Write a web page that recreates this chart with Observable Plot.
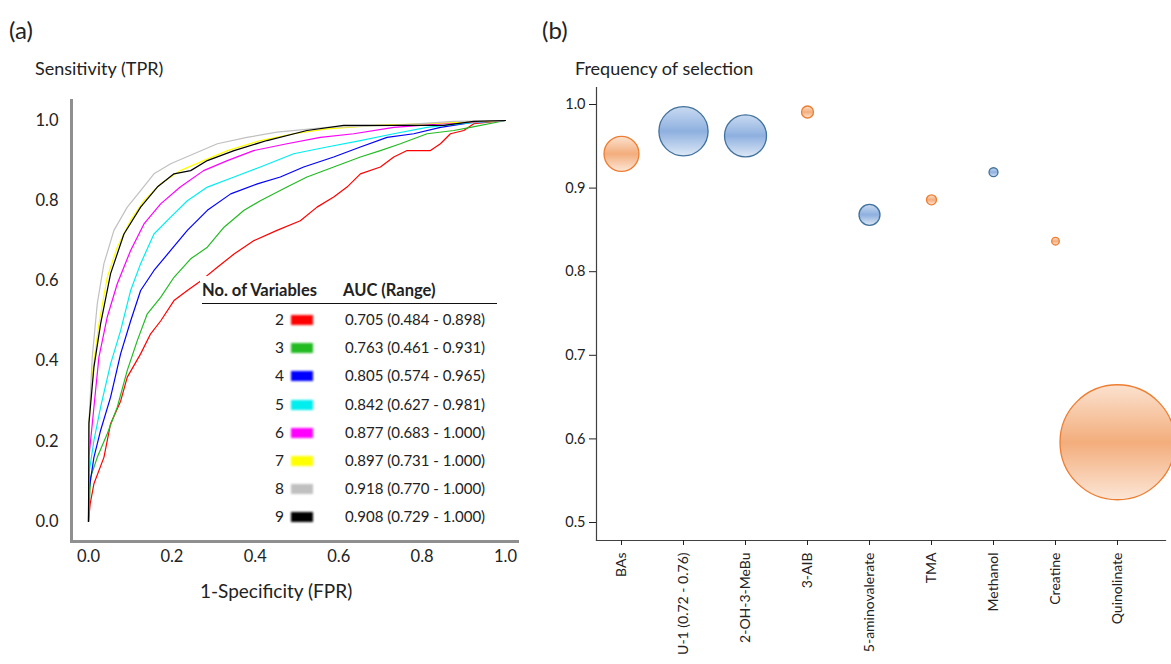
<!DOCTYPE html>
<html><head><meta charset="utf-8">
<script src="https://cdn.jsdelivr.net/npm/d3@7"></script>
<script src="https://cdn.jsdelivr.net/npm/@observablehq/plot@0.6"></script>
<style>
body{margin:0;background:#fff;font-family:Lato,"Open Sans",sans-serif;color:#222;}
#wrap{position:relative;width:1171px;height:664px;overflow:hidden;background:#fff;}
.abs{position:absolute;white-space:nowrap;}
#legend{position:absolute;left:200px;top:276px;width:300px;height:259px;background:#fff;}
#legend .hdr{position:absolute;top:4px;font-weight:bold;font-size:16.5px;}
#legend .rule{position:absolute;left:2px;top:27px;width:295px;height:0;border-top:1.6px solid #111;}
#legend .num{position:absolute;left:60px;width:24px;text-align:right;font-size:15.5px;}
#legend .sw{position:absolute;left:91px;width:22px;height:10px;filter:blur(1.2px);}
#legend .auc{position:absolute;left:145px;font-size:15px;}
</style></head><body><div id="wrap"></div>
<script>
// ---------- Panel (a): ROC curves ----------
const variableCounts = [2, 3, 4, 5, 6, 7, 8, 9];
const curveColors = ["#ff0000", "#22bb22", "#0000ff", "#00eeee", "#ff00ff", "#ffff00", "#c0c0c0", "#000000"];
const aucLabels = ["0.705 (0.484 - 0.898)", "0.763 (0.461 - 0.931)", "0.805 (0.574 - 0.965)", "0.842 (0.627 - 0.981)",
  "0.877 (0.683 - 1.000)", "0.897 (0.731 - 1.000)", "0.918 (0.770 - 1.000)", "0.908 (0.729 - 1.000)"];
const rocTicks = [0, 0.2, 0.4, 0.6, 0.8, 1.0];

const roc2 = [[0,0],[0.004,0.044],[0.013,0.094],[0.037,0.16],[0.053,0.244],[0.077,0.30],[0.093,0.36],[0.125,0.418],[0.149,0.468],[0.173,0.50],[0.205,0.551],[0.237,0.576],[0.269,0.60],[0.309,0.634],[0.349,0.667],[0.396,0.70],[0.452,0.726],[0.508,0.75],[0.548,0.784],[0.588,0.809],[0.62,0.834],[0.652,0.867],[0.70,0.884],[0.732,0.909],[0.764,0.925],[0.82,0.925],[0.844,0.942],[0.868,0.967],[0.90,0.975],[0.924,0.992],[1,1]];
const roc3 = [[0,0],[0.005,0.11],[0.021,0.16],[0.045,0.219],[0.069,0.285],[0.093,0.377],[0.117,0.451],[0.141,0.518],[0.173,0.559],[0.205,0.609],[0.245,0.655],[0.285,0.684],[0.325,0.734],[0.373,0.776],[0.412,0.80],[0.476,0.834],[0.524,0.859],[0.588,0.884],[0.652,0.909],[0.70,0.925],[0.748,0.942],[0.812,0.967],[0.876,0.975],[0.916,0.983],[1,1]];
const roc4 = [[0,0],[0.001,0.077],[0.013,0.16],[0.029,0.227],[0.053,0.31],[0.077,0.418],[0.101,0.50],[0.125,0.576],[0.157,0.626],[0.197,0.676],[0.237,0.726],[0.285,0.776],[0.341,0.817],[0.405,0.842],[0.46,0.859],[0.516,0.884],[0.588,0.909],[0.652,0.934],[0.716,0.958],[0.78,0.967],[0.844,0.983],[0.924,0.996],[1,1]];
const roc5 = [[0,0],[0.001,0.119],[0.013,0.202],[0.029,0.285],[0.053,0.393],[0.077,0.476],[0.101,0.576],[0.125,0.643],[0.157,0.717],[0.197,0.759],[0.237,0.80],[0.285,0.834],[0.349,0.859],[0.412,0.884],[0.492,0.917],[0.572,0.934],[0.652,0.95],[0.732,0.967],[0.812,0.983],[0.892,0.992],[1,1]];
const roc6 = [[0,0],[0.001,0.16],[0.013,0.285],[0.025,0.41],[0.045,0.51],[0.069,0.593],[0.101,0.676],[0.133,0.742],[0.173,0.792],[0.22,0.834],[0.276,0.875],[0.333,0.90],[0.396,0.925],[0.476,0.942],[0.556,0.958],[0.636,0.967],[0.732,0.983],[0.852,0.992],[1,1]];
const roc7 = [[0,0],[0.001,0.244],[0.009,0.368],[0.025,0.493],[0.045,0.609],[0.069,0.684],[0.101,0.751],[0.133,0.80],[0.173,0.842],[0.22,0.875],[0.276,0.90],[0.333,0.925],[0.412,0.95],[0.492,0.967],[0.572,0.979],[0.692,0.988],[0.812,0.992],[1,1]];
const roc8 = [[0,0],[0.001,0.244],[0.009,0.41],[0.021,0.543],[0.037,0.643],[0.061,0.726],[0.093,0.784],[0.125,0.825],[0.157,0.867],[0.197,0.892],[0.253,0.917],[0.309,0.942],[0.38,0.958],[0.452,0.971],[0.572,0.983],[0.732,0.988],[0.876,0.998],[1,1]];
const roc9 = [[0,0],[0.001,0.244],[0.013,0.385],[0.029,0.493],[0.053,0.618],[0.085,0.717],[0.125,0.784],[0.165,0.834],[0.205,0.867],[0.245,0.875],[0.285,0.90],[0.349,0.925],[0.428,0.95],[0.524,0.975],[0.612,0.988],[0.732,0.988],[0.852,0.988],[0.924,0.998],[1,1]];

// ---------- Panel (b): bubble chart ----------
const metabolites = ["BAs", "U-1 (0.72 - 0.76)", "2-OH-3-MeBu", "3-AIB", "5-aminovalerate", "TMA", "Methanol", "Creatine", "Quinolinate"];
const frequency = [0.941, 0.968, 0.9625, 0.991, 0.868, 0.886, 0.919, 0.8365, 0.596];
const bubbleSize = [306, 605, 441, 36, 110, 25, 20, 14.5, 3306];
const bubbleGroup = ["orange", "blue", "blue", "orange", "blue", "orange", "blue", "orange", "orange"];
const freqTicks = [0.5, 0.6, 0.7, 0.8, 0.9, 1.0];

const curves = [roc2, roc3, roc4, roc5, roc6, roc7, roc8, roc9];
const rocRows = curves.flatMap((c, i) => c.map(([fpr, tpr]) => ({n: variableCounts[i], fpr, tpr})));
const bubbles = metabolites.map((name, i) => ({name, freq: frequency[i], size: bubbleSize[i], group: bubbleGroup[i]}));

const FONT = "Lato, 'Open Sans', sans-serif";
const wrap = document.getElementById("wrap");

const plotA = Plot.plot({
  width: 530, height: 664,
  marginLeft: 71, marginRight: 13, marginTop: 100, marginBottom: 123,
  x: {domain: [0, 1], insetLeft: 17, insetRight: 12},
  y: {domain: [0, 1], insetTop: 20, insetBottom: 20},
  color: {domain: variableCounts, range: curveColors},
  style: {fontFamily: FONT, fontSize: "16.5px", color: "#222", background: "transparent"},
  marks: [
    Plot.frame({anchor: "left", stroke: "#8f8f8f", strokeWidth: 3}),
    Plot.frame({anchor: "bottom", stroke: "#8f8f8f", strokeWidth: 3}),
    Plot.axisX({ticks: rocTicks, tickFormat: d3.format(".1f"), tickSize: 0, tickPadding: 9, label: null}),
    Plot.axisY({ticks: rocTicks, tickFormat: d3.format(".1f"), tickSize: 0, tickPadding: 13, label: null}),
    Plot.line(rocRows, {x: "fpr", y: "tpr", z: "n", stroke: "n", strokeWidth: 1.2})
  ]
});
const divA = document.createElement("div");
divA.className = "abs"; divA.style.left = "0px"; divA.style.top = "0px";
divA.appendChild(plotA);
wrap.appendChild(divA);

const plotB = Plot.plot({
  width: 631, height: 664,
  marginLeft: 56, marginRight: 6, marginTop: 87, marginBottom: 124,
  x: {type: "point", domain: metabolites, padding: 0, insetLeft: 21, insetRight: 45},
  y: {domain: [0.5, 1.0], insetTop: 17, insetBottom: 18},
  r: {type: "sqrt", domain: [0, d3.max(bubbleSize)], range: [0, 57.5]},
  style: {fontFamily: FONT, fontSize: "15px", color: "#222", background: "transparent", overflow: "visible"},
  marks: [
    Plot.frame({anchor: "left", stroke: "#404040", strokeWidth: 1.2}),
    Plot.frame({anchor: "bottom", stroke: "#404040", strokeWidth: 1.2}),
    Plot.axisY({ticks: freqTicks, tickFormat: d3.format(".1f"), tickSize: 7, tickPadding: 4, label: null, fontSize: 14.5}),
    Plot.axisX({tickSize: 5, tickRotate: -90, tickPadding: 7, label: null, fontSize: 14}),
    Plot.dot(bubbles.filter(d => d.group === "orange"), {x: "name", y: "freq", r: "size", fill: "url(#gradOrange)", stroke: "#ed7d31", strokeWidth: 1.3}),
    Plot.dot(bubbles.filter(d => d.group === "blue"), {x: "name", y: "freq", r: "size", fill: "url(#gradBlue)", stroke: "#41719c", strokeWidth: 1.3})
  ]
});
d3.select(plotB).insert("defs", ":first-child").html(`
  <linearGradient id="gradOrange" x1="0" y1="0" x2="0" y2="1">
    <stop offset="0" stop-color="#fbe2cf"/><stop offset="0.5" stop-color="#f3ad7c"/><stop offset="1" stop-color="#fce6d6"/>
  </linearGradient>
  <linearGradient id="gradBlue" x1="0" y1="0" x2="0" y2="1">
    <stop offset="0" stop-color="#c9daf1"/><stop offset="0.5" stop-color="#8eb0df"/><stop offset="1" stop-color="#dde8f6"/>
  </linearGradient>`);
const divB = document.createElement("div");
divB.className = "abs"; divB.style.left = "540px"; divB.style.top = "0px";
divB.appendChild(plotB);
wrap.appendChild(divB);

// ---------- texts ----------
function addText(txt, left, top, size, extra) {
  const d = document.createElement("div");
  d.className = "abs"; d.textContent = txt;
  d.style.left = left + "px"; d.style.top = top + "px"; d.style.fontSize = size + "px";
  if (extra) Object.assign(d.style, extra);
  wrap.appendChild(d);
}
addText("(a)", 9, 15, 24);
addText("(b)", 542, 15, 24);
addText("Sensitivity (TPR)", 35, 57, 18);
addText("Frequency of selection", 575, 57, 18);
addText("1-Specificity (FPR)", 200, 579, 19);

// ---------- legend table ----------
const leg = document.createElement("div");
leg.id = "legend";
leg.innerHTML = `<div class="hdr" style="left:2px">No. of Variables</div><div class="hdr" style="left:143px">AUC (Range)</div><div class="rule"></div>`;
variableCounts.forEach((n, i) => {
  const top = 34 + i * 28.2;
  leg.insertAdjacentHTML("beforeend",
    `<div class="num" style="top:${top}px">${n}</div>` +
    `<div class="sw" style="top:${top + 5}px;background:${curveColors[i]}"></div>` +
    `<div class="auc" style="top:${top}px">${aucLabels[i]}</div>`);
});
wrap.appendChild(leg);
</script></body></html>
